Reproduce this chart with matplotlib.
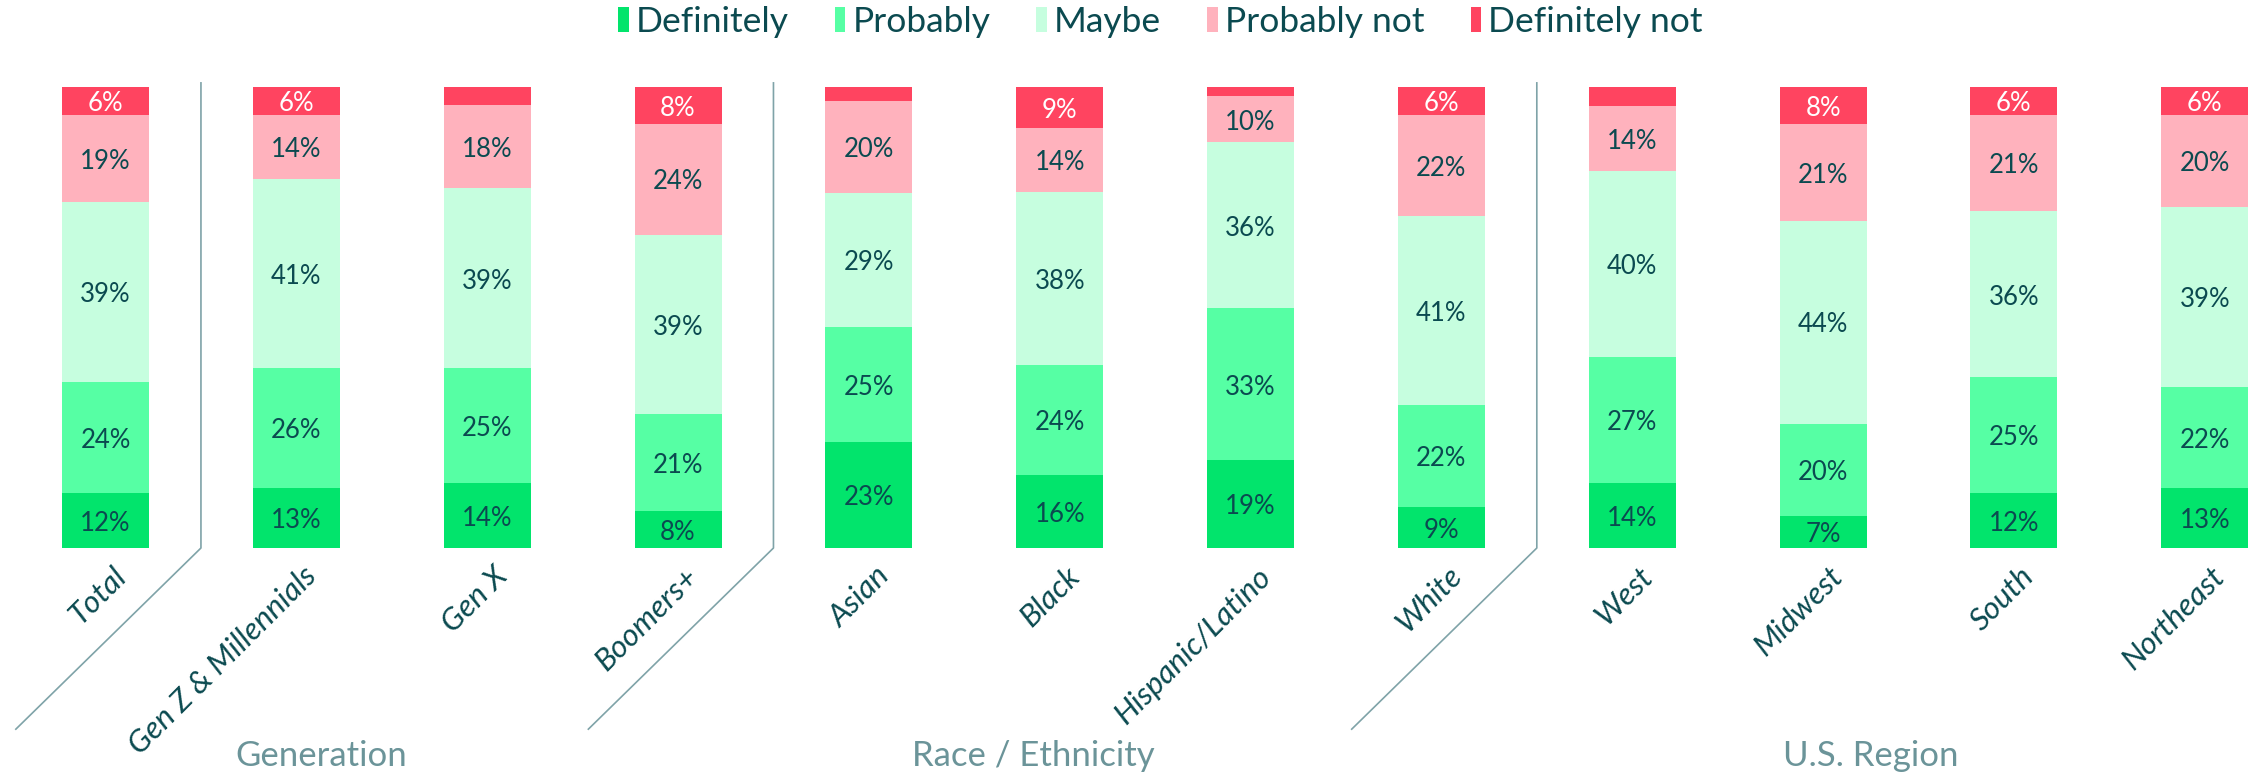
import numpy as np
import matplotlib
matplotlib.use("Agg")
import matplotlib.pyplot as plt
from matplotlib.patches import Patch

plt.rcParams["font.family"] = ["Lato", "DejaVu Sans"]

# ---- data ----
CATS = ["Total", "Gen Z & Millennials", "Gen X", "Boomers+",
        "Asian", "Black", "Hispanic/Latino", "White",
        "West", "Midwest", "South", "Northeast"]
SERIES = ["Definitely", "Probably", "Maybe", "Probably not", "Definitely not"]
definitely = [12, 13, 14, 8, 23, 16, 19, 9, 14, 7, 12, 13]
probably = [24, 26, 25, 21, 25, 24, 33, 22, 27, 20, 25, 22]
maybe = [39, 41, 39, 39, 29, 38, 36, 41, 40, 44, 36, 39]
probably_not = [19, 14, 18, 24, 20, 14, 10, 22, 14, 21, 21, 20]
definitely_not = [6, 6, 4, 8, 3, 9, 2, 6, 4, 8, 6, 6]
GROUPS = ["Generation", "Race / Ethnicity", "U.S. Region"]
GROUP_X = [1.13, 4.86, 9.25]
SEPARATORS = [0.5, 3.5, 7.5]

COLORS = ["#02e46c", "#56ffa4", "#c6fedf", "#ffb2bd", "#ff4460"]
DARK = "#0b4a50"
GREY = "#6b9499"
LINE = "#7fa3a8"

vals = np.array([definitely, probably, maybe, probably_not, definitely_not], dtype=float)
shares = vals / vals.sum(axis=0) * 100  # bars all drawn to full height

fig = plt.figure(figsize=(22.62, 7.75), dpi=100)
ax = fig.add_axes([0, 0.2929, 1, 0.5948])
x = np.arange(len(CATS))
ax.set_xlim(-0.553, 11.30)
ax.set_ylim(0, 100)
ax.axis("off")

bottom = np.zeros(len(CATS))
for k, (name, col) in enumerate(zip(SERIES, COLORS)):
    ax.bar(x, shares[k], 0.456, bottom=bottom, color=col, label=name, linewidth=0)
    for i in range(len(CATS)):
        v = vals[k, i]
        if v < 5:
            continue
        tc = "white" if k == 4 else DARK
        ax.text(x[i], bottom[i] + shares[k, i] / 2 - 0.6, f"{int(v)}%", ha="center",
                va="center", fontsize=18.5, color=tc)
    bottom += shares[k]

# category labels
for i, c in enumerate(CATS):
    ax.text(x[i] + 0.03, -3.0, c, rotation=45, ha="right", va="top",
            rotation_mode="anchor", fontsize=22.5, color=DARK, style="italic",
            clip_on=False)

# group separators: vertical then diagonal down-left
for s in SEPARATORS:
    ax.plot([s, s, s - 0.97], [100.9, 0, -39.3], color=LINE, lw=1.2, clip_on=False)

for g, gx in zip(GROUPS, GROUP_X):
    ax.text(gx, -45.1, g, ha="center", va="center", fontsize=25, color=GREY,
            clip_on=False)

handles = [Patch(facecolor=c, edgecolor="none") for c in COLORS]
fig.legend(handles, SERIES, loc="center", bbox_to_anchor=(0.513, 0.972), ncol=5,
           frameon=False, fontsize=25.5, handlelength=0.3, handleheight=0.7,
           handletextpad=0.2, columnspacing=1.3, labelcolor=DARK)

fig.savefig("out.png", dpi=100)
